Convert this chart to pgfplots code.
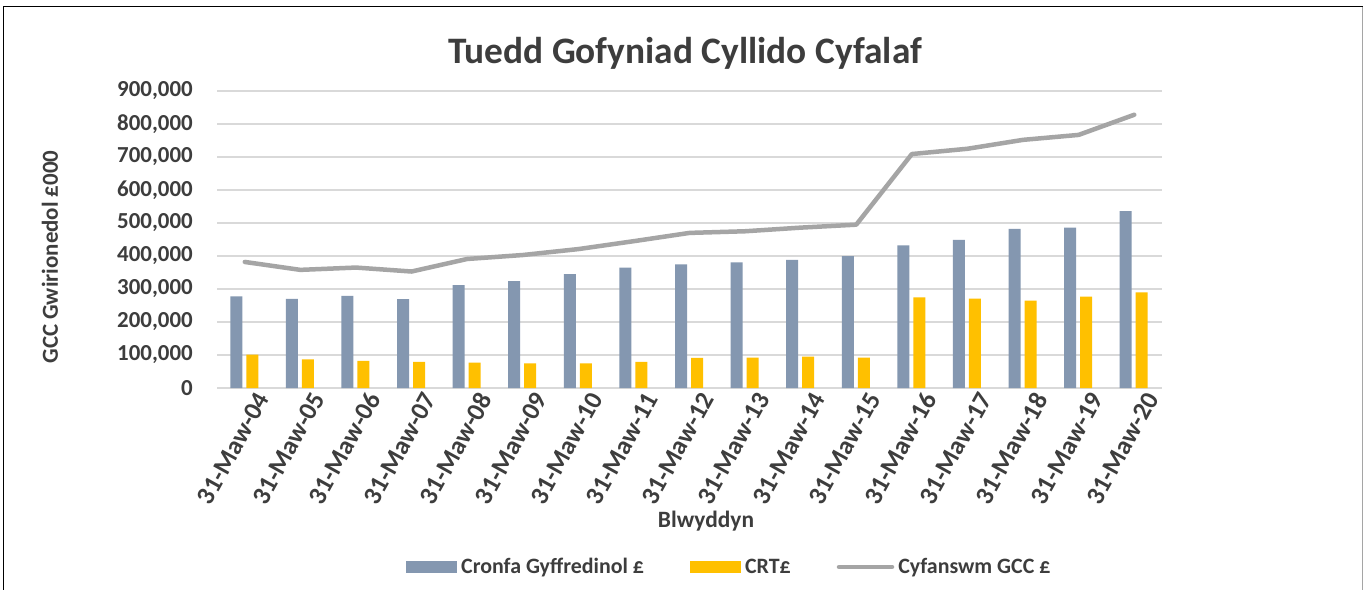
\documentclass[border=0pt]{standalone}
\usepackage{fontspec}
\setmainfont{Carlito}
\usepackage{pgfplots}
\pgfplotsset{compat=1.18}
\definecolor{cblue}{HTML}{8497B0}
\definecolor{cyel}{HTML}{FFC000}
\definecolor{lgray}{HTML}{A5A5A5}
\definecolor{gridg}{HTML}{D9D9D9}
\definecolor{txt}{HTML}{3D3D3D}
\begin{document}
\begin{tikzpicture}
\useasboundingbox (0bp,0bp) rectangle (1363bp,-590bp);
\fill[white] (0bp,0bp) rectangle (1363bp,-590bp);
\draw[black, line width=1.5bp] (3.5bp,-590bp) -- (3.5bp,-6.5bp) -- (1363bp,-6.5bp);
\draw[lgray, line width=1bp] (1362bp,-6.5bp) -- (1362bp,-590bp);
\begin{axis}[
  at={(217bp,-388bp)}, anchor=south west,
  scale only axis, width=945bp, height=297bp,
  xmin=-0.5, xmax=16.5, ymin=0, ymax=900000,
  axis line style={draw=none},
  major tick length=0pt,
  ymajorgrids, grid style={color=gridg, line width=1.4bp},
  ytick={0,100000,...,900000},
  scaled y ticks=false,
  /pgf/number format/.cd, fixed, precision=0, 1000 sep={,}, assume math mode=true,
  /pgfplots/.cd,
  xtick={0,...,16},
  xticklabels={31-Maw-04,31-Maw-05,31-Maw-06,31-Maw-07,31-Maw-08,31-Maw-09,31-Maw-10,31-Maw-11,31-Maw-12,31-Maw-13,31-Maw-14,31-Maw-15,31-Maw-16,31-Maw-17,31-Maw-18,31-Maw-19,31-Maw-20},
  yticklabel style={font=\fontsize{23}{23}\selectfont\bfseries, text=txt, anchor=east, inner sep=0pt, xshift=-24bp},
  xticklabel style={font=\fontsize{26}{26}\selectfont\bfseries, text=txt, rotate=61, anchor=east, inner sep=0pt, yshift=-19bp, xshift=3bp},
  legend columns=3,
  legend cell align=left,
  legend style={draw=none, fill=none, at={(0.1968,-0.6027)}, anchor=west,
    font=\fontsize{22}{22}\selectfont\bfseries, text=txt,
    nodes={inner xsep=4bp},
    /tikz/every even column/.append style={column sep=42bp}},
]
\addplot[ybar, fill=cblue, draw=none, bar width=12bp, bar shift=-8.5bp,
  legend image code/.code={\fill[cblue] (0bp,-6bp) rectangle (51bp,6bp);}]
coordinates {(0,278000)(1,270000)(2,279000)(3,269000)(4,312000)(5,324000)(6,345000)(7,365000)(8,375000)(9,381000)(10,388000)(11,400000)(12,432000)(13,449000)(14,482000)(15,486000)(16,536000)};
\addlegendentry{Cronfa Gyffredinol £}
\addplot[ybar, fill=cyel, draw=none, bar width=12bp, bar shift=7.5bp,
  legend image code/.code={\fill[cyel] (0bp,-6bp) rectangle (51bp,6bp);}]
coordinates {(0,101000)(1,87000)(2,82000)(3,79000)(4,77000)(5,75000)(6,75000)(7,79000)(8,91000)(9,92000)(10,95000)(11,92000)(12,275000)(13,271000)(14,265000)(15,277000)(16,290000)};
\addlegendentry{CRT£}
\addplot[color=lgray, line width=4.5bp, line join=round, line cap=round, mark=none,
  legend image code/.code={\draw[lgray, line width=4.5bp, line cap=round] (0bp,0bp) -- (53bp,0bp);}]
coordinates {(0,382000)(1,358000)(2,365000)(3,353000)(4,391000)(5,403000)(6,421000)(7,445000)(8,470000)(9,475000)(10,486000)(11,495000)(12,709000)(13,725000)(14,752000)(15,767000)(16,828000)};
\addlegendentry{Cyfanswm GCC £}
\end{axis}
\node[font=\fontsize{37.5}{37.5}\selectfont\bfseries, text=txt] at (685bp,-53bp) {Tuedd Gofyniad Cyllido Cyfalaf};
\node[font=\fontsize{23}{23}\selectfont\bfseries, text=txt, rotate=90] at (50bp,-257bp) {GCC Gwirionedol £000};
\node[font=\fontsize{23.5}{23.5}\selectfont\bfseries, text=txt] at (706bp,-521bp) {Blwyddyn};
\end{tikzpicture}
\end{document}
